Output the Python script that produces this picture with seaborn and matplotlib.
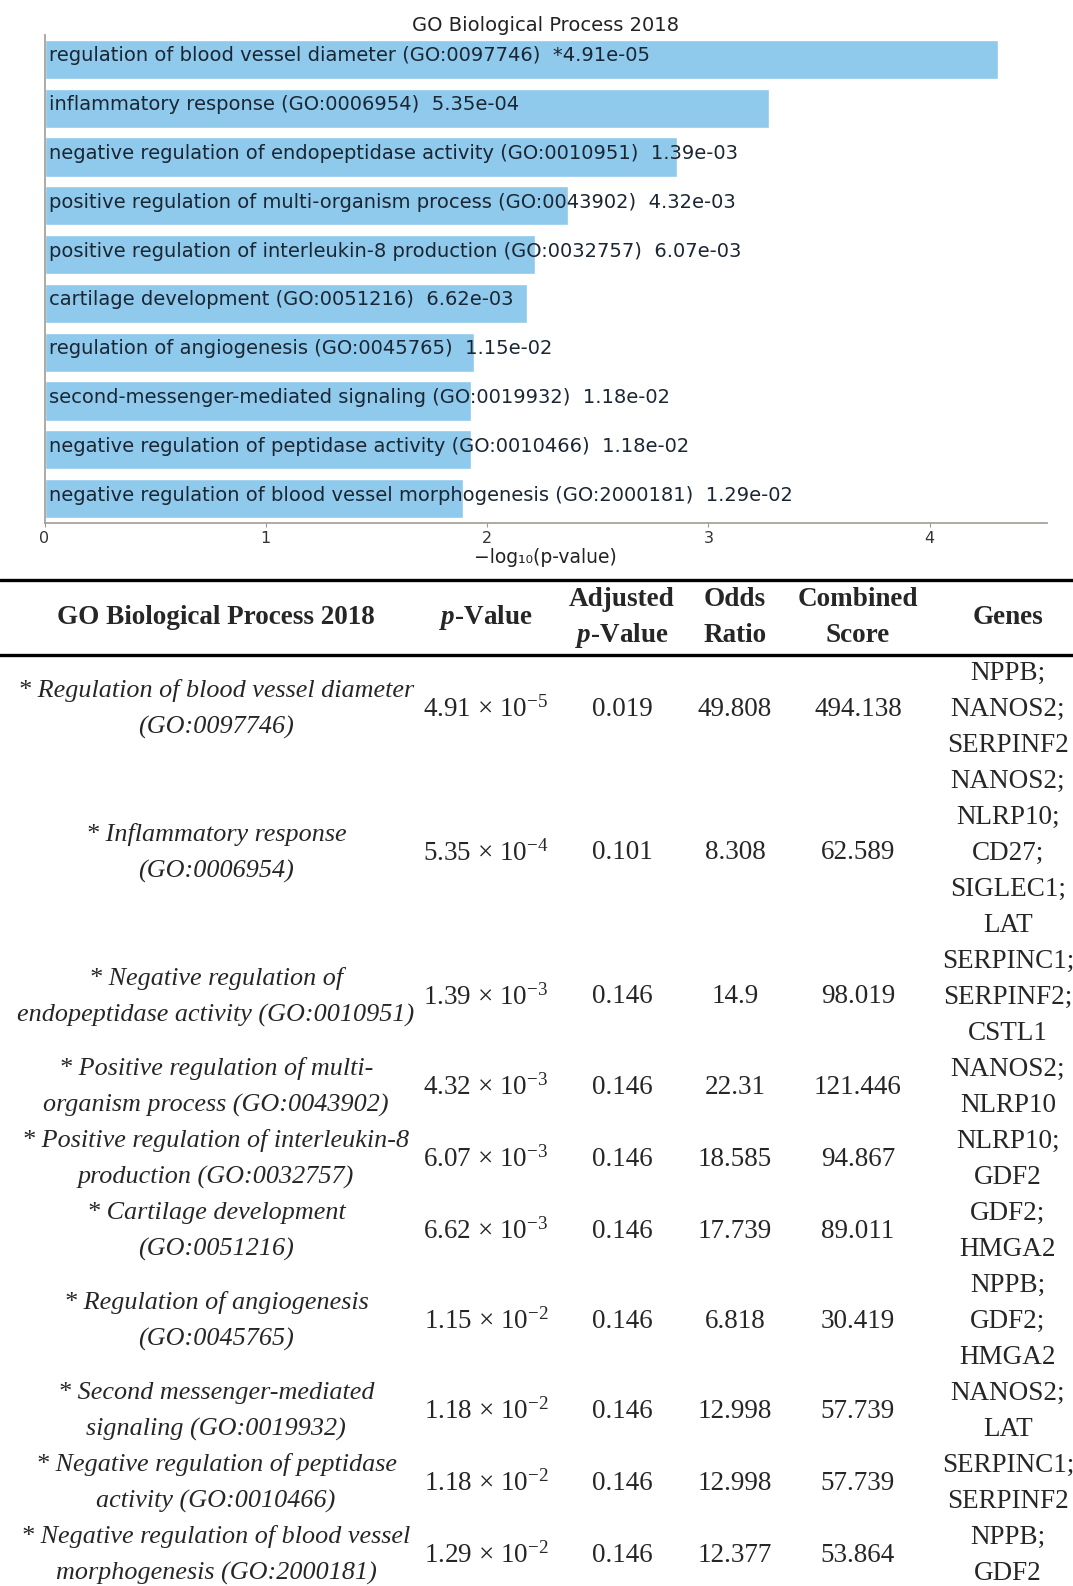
import numpy as np
import pandas as pd
import matplotlib
matplotlib.use("Agg")
import matplotlib.pyplot as plt
from matplotlib.lines import Line2D
import seaborn as sns

# ---- enrichment results: GO Biological Process 2018 ----
terms = [
    "regulation of blood vessel diameter",
    "inflammatory response",
    "negative regulation of endopeptidase activity",
    "positive regulation of multi-organism process",
    "positive regulation of interleukin-8 production",
    "cartilage development",
    "regulation of angiogenesis",
    "second-messenger-mediated signaling",
    "negative regulation of peptidase activity",
    "negative regulation of blood vessel morphogenesis",
]
go_ids = ["GO:0097746", "GO:0006954", "GO:0010951", "GO:0043902", "GO:0032757",
          "GO:0051216", "GO:0045765", "GO:0019932", "GO:0010466", "GO:2000181"]
p_values = [4.91e-5, 5.35e-4, 1.39e-3, 4.32e-3, 6.07e-3,
            6.62e-3, 1.15e-2, 1.18e-2, 1.18e-2, 1.29e-2]
adj_p_values = [0.019, 0.101, 0.146, 0.146, 0.146, 0.146, 0.146, 0.146, 0.146, 0.146]
odds_ratios = ["49.808", "8.308", "14.9", "22.31", "18.585",
               "17.739", "6.818", "12.998", "12.998", "12.377"]
combined_scores = ["494.138", "62.589", "98.019", "121.446", "94.867",
                   "89.011", "30.419", "57.739", "57.739", "53.864"]
table_terms = [
    ["* Regulation of blood vessel diameter", "(GO:0097746)"],
    ["* Inflammatory response", "(GO:0006954)"],
    ["* Negative regulation of", "endopeptidase activity (GO:0010951)"],
    ["* Positive regulation of multi-", "organism process (GO:0043902)"],
    ["* Positive regulation of interleukin-8", "production (GO:0032757)"],
    ["* Cartilage development", "(GO:0051216)"],
    ["* Regulation of angiogenesis", "(GO:0045765)"],
    ["* Second messenger-mediated", "signaling (GO:0019932)"],
    ["* Negative regulation of peptidase", "activity (GO:0010466)"],
    ["* Negative regulation of blood vessel", "morphogenesis (GO:2000181)"],
]
genes = [
    ["NPPB;", "NANOS2;", "SERPINF2"],
    ["NANOS2;", "NLRP10;", "CD27;", "SIGLEC1;", "LAT"],
    ["SERPINC1;", "SERPINF2;", "CSTL1"],
    ["NANOS2;", "NLRP10"],
    ["NLRP10;", "GDF2"],
    ["GDF2;", "HMGA2"],
    ["NPPB;", "GDF2;", "HMGA2"],
    ["NANOS2;", "LAT"],
    ["SERPINC1;", "SERPINF2"],
    ["NPPB;", "GDF2"],
]
x_ticks = [0, 1, 2, 3, 4]

sns.set_style("white")
plt.rcParams["font.family"] = ["DejaVu Sans"]
plt.rcParams["mathtext.fontset"] = "custom"
plt.rcParams["mathtext.rm"] = "Liberation Serif"
plt.rcParams["mathtext.it"] = "Liberation Serif:italic:bold"
plt.rcParams["mathtext.bf"] = "Liberation Serif:bold"

W, H = 1073, 1586
fig = plt.figure(figsize=(W / 100, H / 100), dpi=100)


def fy(px):
    """pixel row from the top -> figure fraction"""
    return 1 - px / H


def fx(px):
    return px / W


# ---- bar chart ----
df = pd.DataFrame({
    "term": terms,
    "go": go_ids,
    "p": p_values,
    "adj": adj_p_values,
})
df["score"] = -np.log10(df["p"])
df["label"] = [
    f"{t} ({g})  {'*' if a < 0.05 else ''}{p:.2e}"
    for t, g, p, a in zip(df["term"], df["go"], df["p"], df["adj"])
]

ax = fig.add_axes([fx(44.5), fy(523), fx(1047) - fx(44.5), fy(35) - fy(523)])
sns.barplot(data=df, y="term", x="score", orient="h", color="#8fc9ec",
            saturation=1, width=0.8, ax=ax)
ax.set_xlim(0, 4.53)
ax.set_ylim(len(df) - 0.5, -0.5)
for i, lab in enumerate(df["label"]):
    ax.annotate(lab, xy=(0, i), xytext=(3, 2.5), textcoords="offset points",
                va="center", ha="left", fontsize=14, color="#1b2633")
ax.set_yticks([])
ax.set_ylabel("")
ax.set_xticks(x_ticks)
ax.set_xticklabels([str(t) for t in x_ticks])
ax.tick_params(axis="x", length=3, width=0.8, color="#999999", labelsize=11.5,
               labelcolor="#333333", pad=2.5, bottom=True)
ax.set_xlabel("\u2212log\u2081\u2080(p-value)", fontsize=13.5, color="#222222",
              labelpad=1.5)
for side in ("top", "right"):
    ax.spines[side].set_visible(False)
for side in ("left", "bottom"):
    ax.spines[side].set_color("#a8a29c")
    ax.spines[side].set_linewidth(1.3)
ax.set_title("GO Biological Process 2018", fontsize=14, color="#222222", pad=3)

# ---- table ----
serif = "Liberation Serif"
fs = 19.5
LH = 36.0
col_x = {"term": 216, "p": 486, "adj": 622, "odds": 735, "comb": 858, "genes": 1008}

fig.add_artist(Line2D([0, 1], [fy(579.5), fy(579.5)], transform=fig.transFigure,
                      color="black", lw=2.4))
fig.add_artist(Line2D([0, 1], [fy(655), fy(655)], transform=fig.transFigure,
                      color="black", lw=2.4))

hdr = dict(ha="center", va="center", fontsize=fs, family=serif, fontweight="bold")
fig.text(fx(col_x["term"]), fy(618), "GO Biological Process 2018", **hdr)
fig.text(fx(col_x["p"]), fy(618), r"$\mathit{p}$-Value", **hdr)
fig.text(fx(col_x["adj"]), fy(600), "Adjusted", **hdr)
fig.text(fx(col_x["adj"]), fy(636), r"$\mathit{p}$-Value", **hdr)
fig.text(fx(col_x["odds"]), fy(600), "Odds", **hdr)
fig.text(fx(col_x["odds"]), fy(636), "Ratio", **hdr)
fig.text(fx(col_x["comb"]), fy(600), "Combined", **hdr)
fig.text(fx(col_x["comb"]), fy(636), "Score", **hdr)
fig.text(fx(col_x["genes"]), fy(618), "Genes", **hdr)

body = dict(ha="center", va="center", fontsize=fs, family=serif)


def sci(p):
    e = int(np.floor(np.log10(p)))
    m = p / 10 ** e
    return f"{m:.2f} \u00d7 10$^{{\\mathregular{{{e}}}}}$"


top = 655.0
for i in range(len(p_values)):
    n = max(len(genes[i]), len(table_terms[i]))
    mid = top + n * LH / 2
    tl = table_terms[i]
    for k, line in enumerate(tl):
        y = mid + (k - (len(tl) - 1) / 2) * LH
        fig.text(fx(col_x["term"]), fy(y), line, style="italic",
                 **{**body, "fontsize": 18.8})
    fig.text(fx(col_x["p"]), fy(mid), sci(p_values[i]), **body)
    fig.text(fx(col_x["adj"]), fy(mid), f"{adj_p_values[i]:.3f}", **body)
    fig.text(fx(col_x["odds"]), fy(mid), odds_ratios[i], **body)
    fig.text(fx(col_x["comb"]), fy(mid), combined_scores[i], **body)
    gl = genes[i]
    for k, g in enumerate(gl):
        y = mid + (k - (len(gl) - 1) / 2) * LH
        fig.text(fx(col_x["genes"]), fy(y), g, **body)
    top += n * LH

fig.savefig("out.png", dpi=100)
